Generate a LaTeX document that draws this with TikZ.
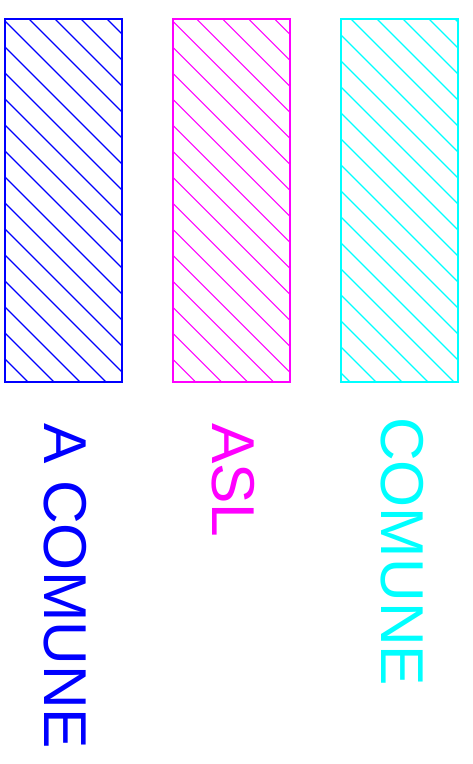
\documentclass[tikz,border=0pt]{standalone}
\usepackage{fontspec}
\setmainfont{Liberation Sans}
\definecolor{cblue}{RGB}{0,0,255}
\definecolor{cmag}{RGB}{255,0,255}
\definecolor{ccyan}{RGB}{0,255,255}
\begin{document}
\begin{tikzpicture}[x=1pt,y=-1pt,
  frame/.style={line width=1.3pt},
  hatchline/.style={line width=1.1pt},
  label/.style={rotate=-90, anchor=base west, inner sep=0pt, font=\fontsize{60.5}{60.5}\selectfont}]
\useasboundingbox (0,0) rectangle (473,764);
\foreach \col/\xl/\xr/\cz in {cblue/5/122/-16, cmag/173/290/151.7, ccyan/341/458/306} {
  \begin{scope}
    \clip (\xl,19) rectangle (\xr,382);
    \foreach \k in {0,...,21} {
      \pgfmathsetmacro\cc{\cz+26*(\k-15)}
      \draw[\col, hatchline] (\cc+19,19) -- (\cc+382,382);
    }
  \end{scope}
  \draw[\col, frame] (\xl,19) rectangle (\xr,382);
}
\node[label, text=cblue] (acomune) at (44,423) {A COMUNE};
\node[label, text=cmag] (asl) at (212.5,423) {ASL};
\node[label, text=ccyan] (comune) at (381,417) {COMUNE};
\end{tikzpicture}
\end{document}
